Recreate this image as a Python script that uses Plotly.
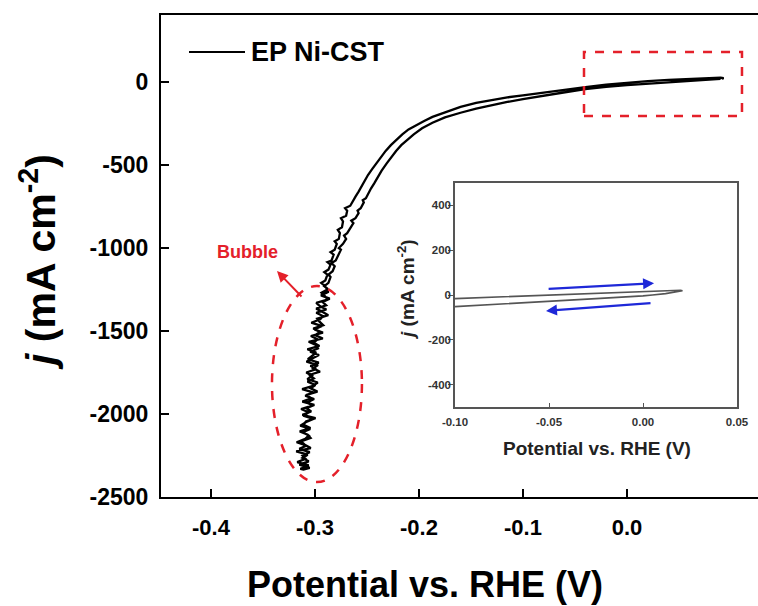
import plotly.graph_objects as go

# ---------------- data ----------------
# cathodic sweep (lower branch, from the positive tip down into the bubble region)
down_v = [0.090, 0.080, 0.060, 0.040, 0.020, 0.000, -0.020, -0.040, -0.064, -0.085,
          -0.100, -0.115, -0.129, -0.145, -0.160, -0.175, -0.187, -0.197, -0.205, -0.211,
          -0.217, -0.222, -0.227, -0.231, -0.236, -0.239, -0.243, -0.246, -0.248, -0.251,
          -0.254, -0.253, -0.256, -0.259, -0.258, -0.261, -0.265, -0.263, -0.266, -0.269,
          -0.272, -0.270, -0.273, -0.277, -0.275, -0.277, -0.280, -0.284, -0.281, -0.283,
          -0.287, -0.285, -0.287, -0.291, -0.288,
          -0.2875, -0.2942, -0.2858, -0.2925, -0.2892, -0.2988, -0.2925, -0.2872, -0.2978, -0.2954,
          -0.2920, -0.3016, -0.2952, -0.2998, -0.2924, -0.3060, -0.2986, -0.2971, -0.3046, -0.2961,
          -0.3026, -0.3081, -0.2971, -0.3016, -0.2951, -0.3056, -0.3011, -0.3071, -0.2996, -0.3041,
          -0.2976, -0.3081, -0.3036, -0.3121, -0.3006, -0.3081, -0.3036, -0.3121, -0.2994, -0.3087,
          -0.3110, -0.3043, -0.3146, -0.3069, -0.3042, -0.3135, -0.3098, -0.3040, -0.3180, -0.3070,
          -0.3120, -0.3060, -0.3150, -0.3050, -0.3110]
down_j = [19, 15, 8, 0, -9, -18, -29, -42, -66, -86,
          -103, -120, -138, -160, -185, -213, -245, -278, -315, -345,
          -380, -415, -455, -490, -535, -570, -610, -640, -668, -700,
          -712, -725, -760, -775, -790, -820, -835, -850, -880, -910,
          -925, -945, -975, -1000, -1010, -1040, -1075, -1090, -1110, -1140,
          -1160, -1175, -1210, -1230, -1245,
          -1265, -1285, -1305, -1325, -1345, -1365, -1385, -1405, -1425, -1445,
          -1465, -1485, -1505, -1525, -1545, -1565, -1585, -1605, -1625, -1645,
          -1665, -1685, -1705, -1725, -1745, -1765, -1785, -1805, -1825, -1845,
          -1865, -1885, -1905, -1925, -1945, -1965, -1985, -2005, -2025, -2045,
          -2065, -2085, -2105, -2125, -2145, -2165, -2185, -2205, -2225, -2245,
          -2265, -2285, -2305, -2325, -2335]

# anodic return sweep (upper branch, from the bubble region back to the tip)
up_v = [-0.3140, -0.3060, -0.3170, -0.3090, -0.3120, -0.3050, -0.3150, -0.3079, -0.3176, -0.3093,
        -0.3060, -0.3117, -0.3044, -0.3141, -0.3088, -0.3015, -0.3112, -0.3058, -0.3133, -0.3028,
        -0.3073, -0.3008, -0.3093, -0.3018, -0.3123, -0.3018, -0.2973, -0.3073, -0.3028, -0.3083,
        -0.2988, -0.3043, -0.2963, -0.3068, -0.3023, -0.2988, -0.3073, -0.2957, -0.3011, -0.2975,
        -0.3039, -0.2923, -0.3007, -0.2931, -0.3035, -0.2949, -0.2923, -0.2987, -0.2890, -0.2953,
        -0.2987, -0.2880, -0.2903, -0.2937, -0.2880,
        -0.291, -0.294, -0.290, -0.288, -0.291, -0.287, -0.285, -0.288, -0.284, -0.282,
        -0.285, -0.281, -0.279, -0.281, -0.277, -0.276, -0.278, -0.274, -0.273, -0.275,
        -0.270, -0.269, -0.271, -0.266, -0.264, -0.261, -0.258, -0.255, -0.252, -0.249,
        -0.245, -0.241, -0.237, -0.232, -0.227, -0.222, -0.216, -0.210, -0.203, -0.195,
        -0.187, -0.175, -0.160, -0.145, -0.129, -0.115, -0.100, -0.085, -0.064, -0.040,
        -0.020, 0.000, 0.020, 0.040, 0.060, 0.080, 0.090, 0.093, 0.091]
up_j = [-2330, -2310, -2290, -2270, -2250, -2230, -2210, -2190, -2170, -2150,
        -2130, -2110, -2090, -2070, -2050, -2030, -2010, -1990, -1970, -1950,
        -1930, -1910, -1890, -1870, -1850, -1830, -1810, -1790, -1770, -1750,
        -1730, -1710, -1690, -1670, -1650, -1630, -1610, -1590, -1570, -1550,
        -1530, -1510, -1490, -1470, -1450, -1430, -1410, -1390, -1370, -1350,
        -1330, -1310, -1290, -1270, -1250,
        -1225, -1210, -1195, -1160, -1145, -1130, -1100, -1085, -1075, -1040,
        -1025, -1010, -975, -960, -945, -910, -890, -875, -840, -820,
        -805, -775, -760, -745, -720, -690, -660, -625, -590, -560,
        -525, -490, -455, -415, -380, -350, -315, -285, -260, -235,
        -210, -182, -150, -126, -106, -92, -80, -67, -50, -30,
        -16, -4, 6, 13, 19, 24, 27, 24, 20]

# inset (zoom of the region near 0 V)
inset_v = [-0.100, -0.075, -0.050, -0.025, 0.000, 0.010, 0.017, 0.020, 0.021,
           0.018, 0.012, 0.005, 0.000, -0.025, -0.050, -0.075, -0.100]
inset_j = [-16, -8, 0, 7, 14, 18, 21, 21, 19,
           14, 6, 0, -4, -16, -28, -40, -52]

main_xticks = [-0.4, -0.3, -0.2, -0.1, 0.0]
main_xticktext = ["-0.4", "-0.3", "-0.2", "-0.1", "0.0"]
main_yticks = [0, -500, -1000, -1500, -2000, -2500]
main_yticktext = ["0", "-500", "-1000", "-1500", "-2000", "-2500"]
inset_xticks = [-0.10, -0.05, 0.00, 0.05]
inset_xticktext = ["-0.10", "-0.05", "0.00", "0.05"]
inset_yticks = [-400, -200, 0, 200, 400]
inset_yticktext = ["-400", "-200", "0", "200", "400"]

series_name = "EP Ni-CST"

# ---------------- layout geometry ----------------
W, H = 758, 606
L, R, T, B = 161, 758, 15, 497          # main plot area in pixels
FONT = "Liberation Sans, Arial, sans-serif"
RED = "#e4202a"
BLUE = "#1e28d8"


def px(x):
    return (x - L) / (R - L)


def py(y):
    return (B - y) / (B - T)


fig = go.Figure()

fig.add_trace(go.Scatter(
    x=down_v + up_v, y=down_j + up_j, mode="lines", name=series_name,
    line=dict(color="black", width=2.3), showlegend=False,
    xaxis="x", yaxis="y"))

fig.add_trace(go.Scatter(
    x=inset_v, y=inset_j, mode="lines", name=series_name + " (inset)",
    line=dict(color="#555555", width=1.6), showlegend=False,
    xaxis="x2", yaxis="y2"))

# inset geometry (pixels)
IL, IR, IT, IB = 455, 737, 183, 407

fig.update_layout(
    width=W, height=H, autosize=False,
    margin=dict(l=L, r=W - R, t=T, b=H - B, pad=0),
    paper_bgcolor="white", plot_bgcolor="white",
    font=dict(family=FONT, color="black"),
    xaxis=dict(range=[-0.448, 0.126], tickvals=main_xticks, ticktext=main_xticktext,
               showline=True, linecolor="black", linewidth=2, mirror=True,
               ticks="inside", ticklen=8, tickwidth=2, tickcolor="black",
               tickfont=dict(size=22, family=FONT, weight="bold", color="black"),
               ticklabelstandoff=10, automargin=False,
               showgrid=False, zeroline=False),
    yaxis=dict(range=[-2500, 404], tickvals=main_yticks, ticktext=main_yticktext,
               showline=True, linecolor="black", linewidth=2, mirror=False,
               ticks="inside", ticklen=8, tickwidth=2, tickcolor="black",
               tickfont=dict(size=23, family=FONT, weight="bold", color="black"),
               ticklabelstandoff=6, automargin=False,
               showgrid=False, zeroline=False),
    xaxis2=dict(domain=[px(IL), px(IR)], anchor="y2", range=[-0.1, 0.05],
                tickvals=inset_xticks, ticktext=inset_xticktext,
                showline=True, linecolor="#555555", linewidth=1.5, mirror=True,
                ticks="inside", ticklen=4, tickwidth=1.2, tickcolor="#555555",
                tickfont=dict(size=11.5, family=FONT, weight="bold", color="#333333"),
                ticklabelstandoff=3, automargin=False,
                showgrid=False, zeroline=False),
    yaxis2=dict(domain=[py(IB), py(IT)], anchor="x2", range=[-500, 500],
                tickvals=inset_yticks, ticktext=inset_yticktext,
                showline=True, linecolor="#555555", linewidth=1.5, mirror=True,
                ticks="outside", ticklen=5, tickwidth=1.2, tickcolor="#555555",
                tickfont=dict(size=11.5, family=FONT, weight="bold", color="#333333"),
                ticklabelstandoff=-5, automargin=False,
                showgrid=False, zeroline=False),
    showlegend=False,
)

# shapes: red dashed rectangle, dashed ellipse, legend line
fig.add_shape(type="rect", xref="x", yref="y", x0=-0.0413, x1=0.1106, y0=-205, y1=181,
              line=dict(color=RED, width=2.5, dash="dash"))
fig.add_shape(type="circle", xref="x", yref="y", x0=-0.3413, x1=-0.2548, y0=-2410, y1=-1229,
              line=dict(color=RED, width=2.5, dash="dash"))
fig.add_shape(type="line", xref="paper", yref="paper", x0=px(189), x1=px(245), y0=py(52), y1=py(52),
              line=dict(color="black", width=2))

annotations = [
    # legend text
    dict(text=series_name, xref="paper", yref="paper", x=px(249), y=py(52),
         xanchor="left", yanchor="middle", showarrow=False,
         font=dict(size=27, family=FONT, weight="bold", color="black")),
    # main axis titles
    dict(text="Potential vs. RHE (V)", xref="paper", yref="paper", x=px(425), y=py(584),
         xanchor="center", yanchor="middle", showarrow=False,
         font=dict(size=36, family=FONT, weight="bold", color="black")),
    dict(text="<i>j</i> (mA cm<sup>-2</sup>)", xref="paper", yref="paper", x=px(38), y=py(262),
         xanchor="center", yanchor="middle", showarrow=False, textangle=-90,
         font=dict(size=41, family=FONT, weight="bold", color="black")),
    # inset axis titles
    dict(text="Potential vs. RHE (V)", xref="paper", yref="paper", x=px(597), y=py(448),
         xanchor="center", yanchor="middle", showarrow=False,
         font=dict(size=19, family=FONT, weight="bold", color="#222222")),
    dict(text="<i>j</i> (mA cm<sup>-2</sup>)", xref="paper", yref="paper", x=px(406), y=py(290),
         xanchor="center", yanchor="middle", showarrow=False, textangle=-90,
         font=dict(size=19, family=FONT, weight="bold", color="#222222")),
    # bubble label + arrow
    dict(text="Bubble", xref="paper", yref="paper", x=px(247), y=py(252),
         xanchor="center", yanchor="middle", showarrow=False,
         font=dict(size=18, family=FONT, weight="bold", color=RED)),
    dict(text="", xref="x", yref="y", x=-0.3365, y=-1139, axref="x", ayref="y",
         ax=-0.3115, ay=-1301, showarrow=True, arrowhead=2, arrowsize=1.1,
         arrowwidth=2, arrowcolor=RED),
    # inset blue arrows
    dict(text="", xref="x2", yref="y2", x=0.0059, y=53, axref="x2", ayref="y2",
         ax=-0.051, ay=27, showarrow=True, arrowhead=2, arrowsize=1.0,
         arrowwidth=2.2, arrowcolor=BLUE),
    dict(text="", xref="x2", yref="y2", x=-0.0516, y=-71, axref="x2", ayref="y2",
         ax=0.0048, ay=-36, showarrow=True, arrowhead=2, arrowsize=1.0,
         arrowwidth=2.2, arrowcolor=BLUE),
]
fig.update_layout(annotations=annotations)

fig.write_html(
    "out.html",
    config={"responsive": False},
    post_script="document.documentElement.style.overflow='hidden';"
                "document.body.style.overflow='hidden';",
)
